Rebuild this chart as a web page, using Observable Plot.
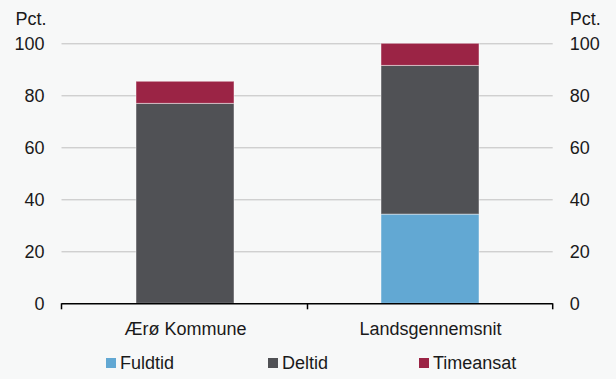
<!DOCTYPE html>
<html>
<head>
<meta charset="utf-8">
<script src="https://cdn.jsdelivr.net/npm/d3@7"></script>
<script src="https://cdn.jsdelivr.net/npm/@observablehq/plot@0.6"></script>
<style>
  html, body { margin: 0; padding: 0; background: #f7f8f8; }
  body { width: 616px; height: 379px; overflow: hidden; font-family: "Liberation Sans", Arial, sans-serif; }
  #chart svg { display: block; background: #f7f8f8; }
  #legend { position: relative; height: 39px; font-size: 18px; color: #1a1a1a; }
  .item { position: absolute; top: 12px; display: flex; align-items: center; line-height: 22px; }
  .sw { width: 10px; height: 10px; margin-right: 4px; }
</style>
</head>
<body>
<div id="chart"></div>
<div id="legend"></div>
<script>
const categories = ["Ærø Kommune", "Landsgennemsnit"];
const series = ["Fuldtid", "Deltid", "Timeansat"];
const fuldtid = [0, 34.3];
const deltid = [76.9, 57.2];
const timeansat = [8.5, 8.5];
const colors = ["#62a8d3", "#505155", "#9b2445"];
const yTicks = [0, 20, 40, 60, 80, 100];
const unitLabel = "Pct.";

const valuesBySeries = [fuldtid, deltid, timeansat];
const data = [];
series.forEach((s, si) => categories.forEach((c, ci) => data.push({category: c, series: s, value: valuesBySeries[si][ci]})));

const font = "Liberation Sans, Arial, sans-serif";

// tick marks at band boundaries of the category axis
function boundaryTicks(index, scales, values, dimensions) {
  const x = scales.x;
  const bw = x.bandwidth ? x.bandwidth() : 0;
  const {width, height, marginLeft, marginRight, marginBottom} = dimensions;
  const xs = [marginLeft];
  for (let i = 1; i < categories.length; i++) xs.push((x(categories[i - 1]) + bw + x(categories[i])) / 2);
  xs.push(width - marginRight);
  const y0 = height - marginBottom;
  const g = d3.create("svg:g");
  g.selectAll("line").data(xs).join("line")
    .attr("x1", d => d).attr("x2", d => d)
    .attr("y1", y0).attr("y2", y0 + 6)
    .attr("stroke", "#000").attr("stroke-width", 1.5);
  return g.node();
}

const plot = Plot.plot({
  width: 616,
  height: 340,
  marginLeft: 61.5,
  marginRight: 63.3,
  marginTop: 43.3,
  marginBottom: 36.7,
  style: {fontFamily: font, fontSize: "18px", background: "#f7f8f8", color: "#1a1a1a"},
  x: {domain: categories, paddingInner: 0.6, paddingOuter: 0.3, label: null},
  y: {domain: [0, 100], label: null},
  color: {domain: series, range: colors},
  marks: [
    Plot.ruleY(yTicks.filter(d => d > 0), {stroke: "#bfbfbf", strokeWidth: 1}),
    Plot.barY(data, {x: "category", y: "value", fill: "series", order: series, stroke: "#ffffff", strokeOpacity: 0.45, strokeWidth: 1}),
    Plot.ruleY([0], {stroke: "#000", strokeWidth: 1.5}),
    boundaryTicks,
    Plot.axisX({tickSize: 0, tickPadding: 18, fontSize: 18}),
    Plot.axisY({anchor: "left", ticks: yTicks, tickSize: 0, tickPadding: 17.5, label: null, fontSize: 18}),
    Plot.axisY({anchor: "right", ticks: yTicks, tickSize: 0, tickPadding: 16.5, label: null, fontSize: 18}),
    Plot.text([unitLabel], {frameAnchor: "top-left", dx: -46.5, dy: -24.3, text: d => d, textAnchor: "start", lineAnchor: "middle", fontSize: 18}),
    Plot.text([unitLabel], {frameAnchor: "top-right", dx: 16.5, dy: -24.3, text: d => d, textAnchor: "start", lineAnchor: "middle", fontSize: 18})
  ]
});
document.getElementById("chart").append(plot);

const legendLefts = [106, 268, 419];
const legend = document.getElementById("legend");
series.forEach((s, i) => {
  const item = document.createElement("div");
  item.className = "item";
  item.style.left = legendLefts[i] + "px";
  const sw = document.createElement("span");
  sw.className = "sw";
  sw.style.background = colors[i];
  const t = document.createElement("span");
  t.textContent = s;
  item.append(sw, t);
  legend.append(item);
});
</script>
</body>
</html>
